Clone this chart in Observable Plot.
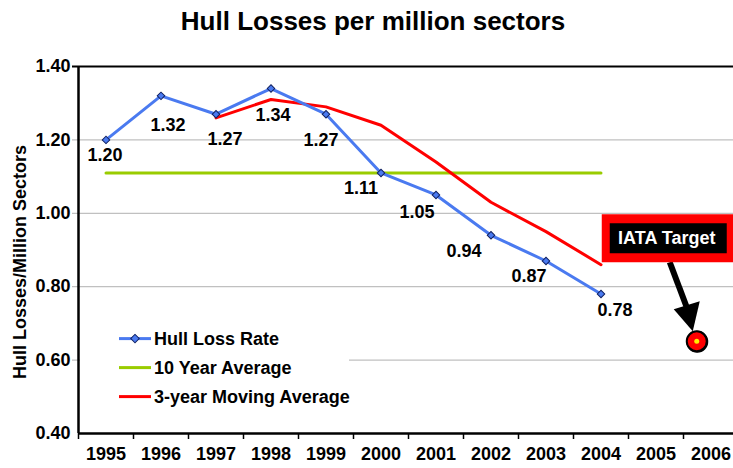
<!DOCTYPE html>
<html>
<head>
<meta charset="utf-8">
<script src="https://cdn.jsdelivr.net/npm/d3@7"></script>
<script src="https://cdn.jsdelivr.net/npm/@observablehq/plot@0.6"></script>
<style>
  html, body { margin: 0; padding: 0; background: #fff; }
  #wrap { position: relative; width: 733px; height: 468px; overflow: hidden; font-family: "Liberation Sans", Arial, sans-serif; }
  #title { position: absolute; left: 0; top: 5px; width: 746px; text-align: center; font-weight: bold; font-size: 26px; line-height: 32px; color: #000; }
  #chart { position: absolute; left: 0; top: 0; }
</style>
</head>
<body>
<div id="wrap">
  <div id="chart"></div>
  <div id="title">Hull Losses per million sectors</div>
</div>
<script>
// ---- data ----
const years = [1995, 1996, 1997, 1998, 1999, 2000, 2001, 2002, 2003, 2004];
const hullLossRate = [1.20, 1.32, 1.27, 1.34, 1.27, 1.11, 1.05, 0.94, 0.87, 0.78];
const tenYearAverage = 1.11;
const movingAvgYears = [1997, 1998, 1999, 2000, 2001, 2002, 2003, 2004];
const movingAverage = [1.26, 1.31, 1.29, 1.24, 1.14, 1.03, 0.95, 0.86];
const axisYears = [1995, 1996, 1997, 1998, 1999, 2000, 2001, 2002, 2003, 2004, 2005, 2006];
const yTicks = [0.40, 0.60, 0.80, 1.00, 1.20, 1.40];
const targetYear = 2005.75;
const targetValue = 0.65;
const seriesNames = ["Hull Loss Rate", "10 Year Average", "3-year Moving Average"];

// ---- styling / layout ----
const BLUE = "#4a7af0", GREEN = "#99cc00", RED = "#ff0000";
const labelOffsets = [[-1,15],[7,29],[9,25],[2,27],[-5,26],[-20,15],[-19,17],[-27,16],[-17,15],[14,16]];

const hull = years.map((y, i) => ({year: y, value: hullLossRate[i], dx: labelOffsets[i][0], dy: labelOffsets[i][1]}));
const avg10 = years.map(y => ({year: y, value: tenYearAverage}));
const mov = movingAvgYears.map((y, i) => ({year: y, value: movingAverage[i]}));
const boundaries = axisYears.map(y => y - 0.5);

const chart = Plot.plot({
  width: 733,
  height: 468,
  marginTop: 66,
  marginBottom: 35,
  marginLeft: 78,
  marginRight: 0,
  style: {fontFamily: "Liberation Sans, Arial, sans-serif", background: "transparent", overflow: "visible"},
  x: {type: "linear", domain: [1994.5, 1994.5 + 655 / 55], label: null},
  y: {domain: [0.4, 1.4], label: null},
  marks: [
    Plot.ruleY(yTicks.filter(v => v > 0.4 && v < 1.4), {stroke: "#c0c0c0", strokeWidth: 1.2, insetLeft: -6}),
    Plot.ruleY([1.4], {stroke: "#000", strokeWidth: 2, insetLeft: -6}),
    Plot.axisY({ticks: yTicks, tickFormat: d => d.toFixed(2), tickSize: 0, tickPadding: 8, fontSize: 18, fontWeight: "bold", fill: "#000", label: null}),
    Plot.axisX({ticks: boundaries, tickFormat: () => "", tickSize: 6, stroke: "#000", strokeWidth: 1.5, label: null}),
    Plot.axisX({ticks: axisYears, tickFormat: d => String(d), tickSize: 0, tickPadding: 14, fontSize: 18, fontWeight: "bold", fill: "#000", label: null}),
    Plot.ruleX([1994.5], {stroke: "#000", strokeWidth: 2.5}),
    Plot.ruleY([0.4], {stroke: "#000", strokeWidth: 2.5}),
    Plot.line(avg10, {x: "year", y: "value", stroke: GREEN, strokeWidth: 3}),
    Plot.line(mov, {x: "year", y: "value", stroke: RED, strokeWidth: 3}),
    Plot.line(hull, {x: "year", y: "value", stroke: BLUE, strokeWidth: 3}),
    Plot.dot(hull, {x: "year", y: "value", symbol: "square", r: 3, fill: BLUE, stroke: "#102060", strokeWidth: 1, rotate: 45}),
    ...hull.map(d => Plot.text([d], {x: "year", y: "value", text: v => v.value.toFixed(2), dx: d.dx, dy: d.dy, fontSize: 18, fontWeight: "bold", fill: "#000"})),
    Plot.text(["Hull Losses/Million Sectors"], {frameAnchor: "left", textAnchor: "middle", rotate: -90, dx: -58, dy: 12, fontSize: 18, fontWeight: "bold", fill: "#000"}),
    Plot.dot([{year: targetYear, value: targetValue}], {x: "year", y: "value", r: 10, fill: RED, stroke: "#000", strokeWidth: 2})
  ]
});
document.getElementById("chart").appendChild(chart);

// ---- annotations (callout + legend) placed via the chart's scales ----
const sx = chart.scale("x"), sy = chart.scale("y");
const svg = d3.select(chart);
const tx = sx.apply(targetYear), ty = sy.apply(targetValue);
const callout = svg.append("g");
callout.append("line").attr("x1", tx - 27).attr("y1", ty - 79).attr("x2", tx - 10).attr("y2", ty - 34)
  .attr("stroke", "#000").attr("stroke-width", 6);
callout.append("path")
  .attr("d", `M${tx - 4},${ty - 10} L${tx - 23},${ty - 32} L${tx + 3},${ty - 40} Z`)
  .attr("fill", "#000");
callout.append("rect").attr("x", tx - 95).attr("y", ty - 127).attr("width", 150).attr("height", 48).attr("fill", RED);
callout.append("rect").attr("x", tx - 87).attr("y", ty - 118).attr("width", 117).attr("height", 30).attr("fill", "#000");
callout.append("text").attr("x", tx - 30).attr("y", ty - 103).attr("text-anchor", "middle").attr("dominant-baseline", "central")
  .attr("fill", "#fff").attr("font-size", 18).attr("font-weight", "bold").text("IATA Target");
// target dot on top of arrow
const tg = svg.append("g");
tg.append("circle").attr("cx", tx).attr("cy", ty).attr("r", 10).attr("fill", RED).attr("stroke", "#000").attr("stroke-width", 2);
tg.append("circle").attr("cx", tx).attr("cy", ty).attr("r", 2.5).attr("fill", "#ffee00");

const lx = sx.apply(1994.5), ly = sy.apply(0.6);
const legend = svg.append("g");
legend.append("rect").attr("x", lx + 2).attr("y", ly - 38).attr("width", 269).attr("height", 92).attr("fill", "#fff");
const legColors = [BLUE, GREEN, RED];
seriesNames.forEach((name, i) => {
  const yy = ly - 21 + i * 29;
  legend.append("line").attr("x1", lx + 41).attr("x2", lx + 73).attr("y1", yy).attr("y2", yy)
    .attr("stroke", legColors[i]).attr("stroke-width", 3);
  if (i === 0) {
    legend.append("rect").attr("x", -3).attr("y", -3).attr("width", 6).attr("height", 6)
      .attr("transform", `translate(${lx + 57},${yy}) rotate(45)`)
      .attr("fill", BLUE).attr("stroke", "#102060").attr("stroke-width", 1);
  }
  legend.append("text").attr("x", lx + 76).attr("y", yy).attr("text-anchor", "start").attr("dominant-baseline", "central")
    .attr("font-size", 18).attr("font-weight", "bold").attr("fill", "#000").text(name);
});
</script>
</body>
</html>
